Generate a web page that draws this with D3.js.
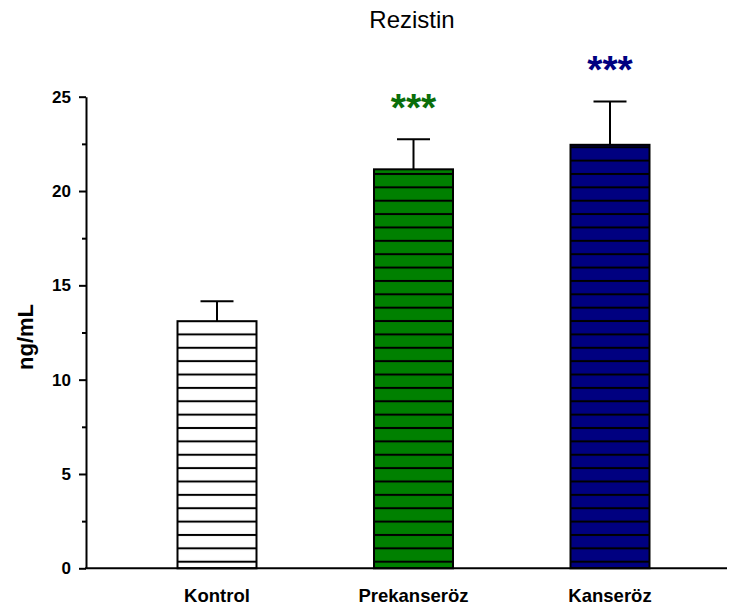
<!DOCTYPE html>
<html>
<head>
<meta charset="utf-8">
<script src="https://cdn.jsdelivr.net/npm/d3@7/dist/d3.min.js"></script>
<style>
  html, body { margin: 0; padding: 0; background: #fff; }
  svg { display: block; }
  text { font-family: "Liberation Sans", Arial, sans-serif; }
</style>
</head>
<body>
<svg id="chart" width="729" height="610"></svg>
<script>
// ---- data ----
const categories = ["Kontrol", "Prekanseröz", "Kanseröz"];
const means = [13.1, 21.15, 22.45];
const errors = [1.05, 1.6, 2.3];
const significance = ["", "***", "***"];
const yTicks = [0, 5, 10, 15, 20, 25];
const yMinorTicks = [2.5, 7.5, 12.5, 17.5, 22.5];
const title = "Rezistin";
const yLabel = "ng/mL";

// ---- styles ----
const fills = ["#ffffff", "#008000", "#000080"];
const starColors = ["#000000", "#0a6e0a", "#000080"];

const svg = d3.select("#chart");

const x = d3.scalePoint().domain(categories).range([217, 610]);
const y = d3.scaleLinear().domain([0, 25]).range([568.3, 96.7]);
const barW = 79;
const capW = 33;

// stripe patterns
const defs = svg.append("defs");
const stripeH = 13.37;
categories.forEach((c, i) => {
  const p = defs.append("pattern")
    .attr("id", "stripe" + i)
    .attr("patternUnits", "userSpaceOnUse")
    .attr("x", 0)
    .attr("y", 561.7 - stripeH / 2)
    .attr("width", 10)
    .attr("height", stripeH);
  p.append("rect").attr("width", 10).attr("height", stripeH).attr("fill", fills[i]);
  p.append("line")
    .attr("x1", 0).attr("x2", 10)
    .attr("y1", stripeH / 2).attr("y2", stripeH / 2)
    .attr("stroke", "#000").attr("stroke-width", 2);
});

// title
svg.append("text")
  .attr("x", 412).attr("y", 28)
  .attr("text-anchor", "middle")
  .attr("font-size", 24)
  .text(title);

// y label
svg.append("text")
  .attr("transform", "translate(33,337) rotate(-90)")
  .attr("text-anchor", "middle")
  .attr("font-size", 22)
  .attr("font-weight", "bold")
  .text(yLabel);

// error bars (drawn before bars)
const eg = svg.append("g");
categories.forEach((c, i) => {
  const cx = x(c);
  eg.append("line")
    .attr("x1", cx).attr("x2", cx)
    .attr("y1", y(means[i])).attr("y2", y(means[i] + errors[i]))
    .attr("stroke", "#000").attr("stroke-width", 2);
  eg.append("line")
    .attr("x1", cx - capW / 2).attr("x2", cx + capW / 2)
    .attr("y1", y(means[i] + errors[i])).attr("y2", y(means[i] + errors[i]))
    .attr("stroke", "#000").attr("stroke-width", 2);
});

// bars
svg.append("g").selectAll("rect")
  .data(categories)
  .join("rect")
  .attr("x", d => x(d) - barW / 2)
  .attr("width", barW)
  .attr("y", (d, i) => y(means[i]))
  .attr("height", (d, i) => y(0) - y(means[i]))
  .attr("fill", (d, i) => `url(#stripe${i})`)
  .attr("stroke", "#000")
  .attr("stroke-width", 2);

// significance stars
svg.append("g").selectAll("text")
  .data(categories)
  .join("text")
  .attr("x", d => x(d))
  .attr("y", (d, i) => y(means[i] + errors[i]) - 38 + 20)
  .attr("text-anchor", "middle")
  .attr("font-size", 39)
  .attr("font-weight", "bold")
  .attr("fill", (d, i) => starColors[i])
  .text((d, i) => significance[i]);

// y axis
const yAxis = d3.axisLeft(y).tickValues(yTicks).tickSize(7).tickSizeOuter(0).tickPadding(8);
const ya = svg.append("g").attr("transform", "translate(86,0)").call(yAxis);
ya.select(".domain").attr("stroke-width", 2);
ya.selectAll(".tick line").attr("stroke-width", 2);
ya.selectAll(".tick text")
  .attr("font-size", 17)
  .attr("font-weight", "bold")
  .attr("font-family", "Liberation Sans, Arial, sans-serif")
  .attr("fill", "#000");
const yMinor = d3.axisLeft(y).tickValues(yMinorTicks).tickSize(4).tickFormat("");
const ym = svg.append("g").attr("transform", "translate(86,0)").call(yMinor);
ym.select(".domain").remove();
ym.selectAll(".tick line").attr("stroke-width", 2);

// x axis
svg.append("line")
  .attr("x1", 85).attr("x2", 727)
  .attr("y1", y(0)).attr("y2", y(0))
  .attr("stroke", "#000").attr("stroke-width", 2);

svg.append("g").selectAll("text")
  .data(categories)
  .join("text")
  .attr("x", d => x(d))
  .attr("y", 602)
  .attr("text-anchor", "middle")
  .attr("font-size", 18.5)
  .attr("font-weight", "bold")
  .text(d => d);
</script>
</body>
</html>
